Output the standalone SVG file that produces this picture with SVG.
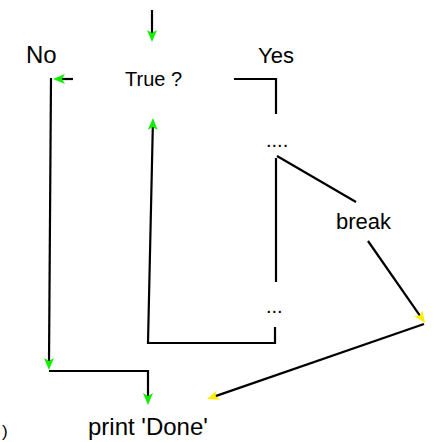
<svg xmlns="http://www.w3.org/2000/svg" width="435" height="442" viewBox="0 0 435 442">
<style>
  text { font-family: "Liberation Sans", Arial, sans-serif; fill: #000; }
  .big { font-size: 22px; }
  .small { font-size: 20px; }
  .dots { font-size: 20px; }
  .ln { fill: none; stroke: #000; stroke-width: 2.2; }
</style>
<defs>
  <marker id="ag" viewBox="0 0 12 10" refX="3" refY="5" markerWidth="12" markerHeight="10" markerUnits="userSpaceOnUse" orient="auto">
    <path d="M0,0 L12,5 L0,10 L3,5 Z" fill="#11ee00"/>
  </marker>
  <marker id="ay" viewBox="0 0 12 10" refX="3" refY="5" markerWidth="12" markerHeight="10" markerUnits="userSpaceOnUse" orient="auto">
    <path d="M0,0 L12,5 L0,10 L3,5 Z" fill="#ffee00"/>
  </marker>
</defs>
<rect width="435" height="442" fill="#fff"/>
<g id="connectors">
  <line class="ln" x1="152" y1="10" x2="152" y2="33" marker-end="url(#ag)"/>
  <line class="ln" x1="73" y1="79" x2="62" y2="79" marker-end="url(#ag)"/>
  <line class="ln" x1="51" y1="78" x2="49" y2="361" marker-end="url(#ag)"/>
  <polyline class="ln" points="49,371 148,371 148,396" marker-end="url(#ag)"/>
  <polyline class="ln" points="275,327 275,343 148,343 152.8,127" marker-end="url(#ag)"/>
  <polyline class="ln" points="234,79 276,79 276,114"/>
  <line class="ln" x1="276" y1="158" x2="276" y2="282"/>
  <line class="ln" x1="277" y1="156" x2="356" y2="202"/>
  <line class="ln" x1="368" y1="241" x2="419.9" y2="315.6" marker-end="url(#ay)"/>
  <line class="ln" x1="424" y1="324" x2="215.5" y2="396.1" marker-end="url(#ay)"/>
</g>
<g id="node-true"><text class="small" x="125" y="86">True ?</text></g>
<g id="label-no"><text class="big" x="26" y="63" style="font-size:24px">No</text></g>
<g id="label-yes"><text class="big" x="258" y="63">Yes</text></g>
<g id="node-body1"><text class="dots" x="266" y="147">....</text></g>
<g id="node-break"><text class="big" x="336" y="229">break</text></g>
<g id="node-body2"><text class="dots" x="266" y="313">...</text></g>
<g id="node-done"><text class="big" x="88" y="435" style="font-size:24px">print 'Done'</text></g>
<g id="clipped"><text class="small" x="2" y="437" style="font-size:17px">)</text></g>
</svg>
